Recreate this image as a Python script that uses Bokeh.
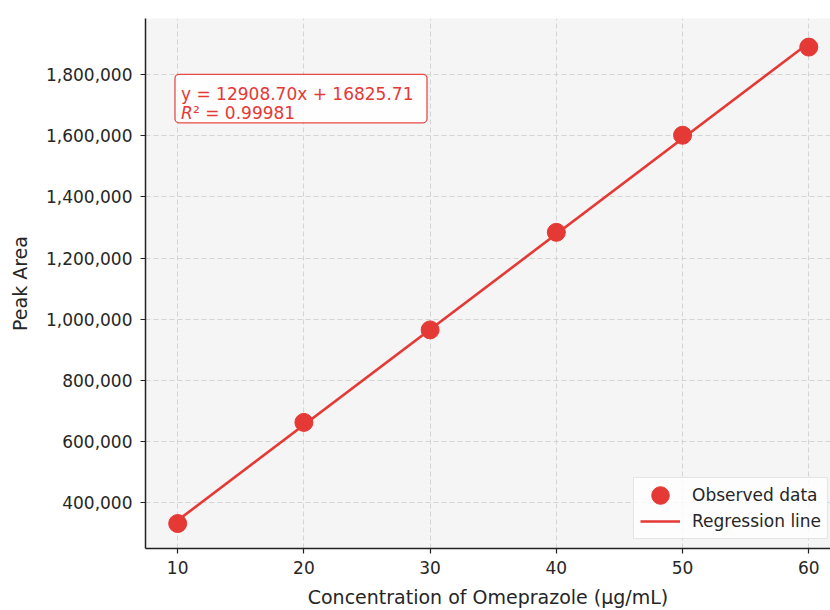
import numpy as np
from bokeh.plotting import figure
from bokeh.models import (Range1d, FixedTicker, NumeralTickFormatter, Label,
                          BoxAnnotation, Legend, LegendItem)
from bokeh.embed import file_html
from bokeh.resources import INLINE

# Calibration data: concentration (µg/mL) vs. chromatographic peak area
conc = [10, 20, 30, 40, 50, 60]
peak_area = [332500, 662900, 965200, 1283900, 1601200, 1889200]

x_ticks = [10, 20, 30, 40, 50, 60]
y_ticks = [400000, 600000, 800000, 1000000, 1200000, 1400000, 1600000, 1800000]

equation_text = "y = 12908.70x + 16825.71"
r2_symbol = "R"
r2_rest = "\u00b2 = 0.99981"

RED = "#e53935"
FONT = "DejaVu Sans"

# least-squares regression line over the calibration range
slope, intercept = np.polyfit(conc, peak_area, 1)
fit_x = [min(conc), max(conc)]
fit_y = [slope * v + intercept for v in fit_x]

X0, X1 = 7.45, 61.72
Y0, Y1 = 250900, 1982600
W, H = 830, 610
LEFT, TOP, BOTTOM = 145, 18, 61
FRAME_W = W - LEFT
FRAME_H = H - TOP - BOTTOM

p = figure(width=W, height=H, x_range=Range1d(X0, X1), y_range=Range1d(Y0, Y1),
           output_backend="svg", toolbar_location=None,
           min_border_left=LEFT, min_border_right=0,
           min_border_top=TOP, min_border_bottom=BOTTOM)

p.background_fill_color = "#f5f5f5"
p.border_fill_color = "white"
p.outline_line_color = None


def px_x(px):
    return X0 + (px - LEFT) / FRAME_W * (X1 - X0)


def px_y(py):
    return Y1 - (py - TOP) / FRAME_H * (Y1 - Y0)


# grid
for g in (p.xgrid, p.ygrid):
    g.grid_line_color = "#d4d4d4"
    g.grid_line_dash = "5 3"
    g.grid_line_width = 1

# axes
p.xaxis.ticker = FixedTicker(ticks=x_ticks)
p.yaxis.ticker = FixedTicker(ticks=y_ticks)
p.yaxis.formatter = NumeralTickFormatter(format="0,0")
p.xaxis.axis_label = "Concentration of Omeprazole (\u03bcg/mL)"
p.yaxis.axis_label = "Peak Area"
for ax in (p.xaxis, p.yaxis):
    ax.axis_line_color = "#222222"
    ax.axis_line_width = 1.5
    ax.major_tick_line_color = "#222222"
    ax.major_tick_line_width = 1.2
    ax.major_tick_out = 5
    ax.major_tick_in = 0
    ax.minor_tick_line_color = None
    ax.major_label_text_font = FONT
    ax.major_label_text_font_size = "17px"
    ax.major_label_text_color = "#262626"
    ax.axis_label_text_font = FONT
    ax.axis_label_text_font_size = "19px"
    ax.axis_label_text_font_style = "normal"
    ax.axis_label_text_color = "#262626"
p.xaxis.major_label_standoff = 7
p.yaxis.major_label_standoff = 8
p.xaxis.axis_label_standoff = 9
p.yaxis.axis_label_standoff = 12

# data: fitted line under the observed points (drawn as screen-sized circles)
ln = p.line(fit_x, fit_y, line_color=RED, line_width=2.6)
sc = p.ellipse(conc, peak_area, width=18, height=18,
               width_units="screen", height_units="screen",
               fill_color=RED, line_color=RED)

# regression annotation box
p.add_layout(BoxAnnotation(left=px_x(174.5), right=px_x(426.5),
                           top=px_y(74), bottom=px_y(122.5),
                           fill_color="white", fill_alpha=0.85,
                           line_color=RED, line_alpha=0.9, line_width=1.3,
                           border_radius=4))
p.add_layout(Label(x=px_x(180.5), y=px_y(93.5), text=equation_text,
                   text_color=RED, text_font=FONT, text_font_size="17px",
                   text_baseline="alphabetic"))
p.add_layout(Label(x=px_x(180.5), y=px_y(112.5), text=r2_symbol,
                   text_color=RED, text_font=FONT, text_font_size="17px",
                   text_font_style="italic", text_baseline="alphabetic"))
p.add_layout(Label(x=px_x(192.5), y=px_y(112.5), text=r2_rest,
                   text_color=RED, text_font=FONT, text_font_size="17px",
                   text_baseline="alphabetic"))

legend = Legend(items=[LegendItem(label="Observed data", renderers=[sc]),
                       LegendItem(label="Regression line", renderers=[ln])],
                location=(633 - LEFT, H - BOTTOM - 540))
legend.label_text_font = FONT
legend.label_text_font_size = "17px"
legend.label_text_color = "#262626"
legend.glyph_width = 40
legend.glyph_height = 22
legend.label_standoff = 12
legend.padding = 6
legend.spacing = 4
legend.margin = 0
legend.border_line_color = "#cccccc"
legend.border_line_width = 1
legend.background_fill_color = "white"
legend.background_fill_alpha = 0.8
p.add_layout(legend)

open("out.html", "w").write(file_html(p, INLINE))
